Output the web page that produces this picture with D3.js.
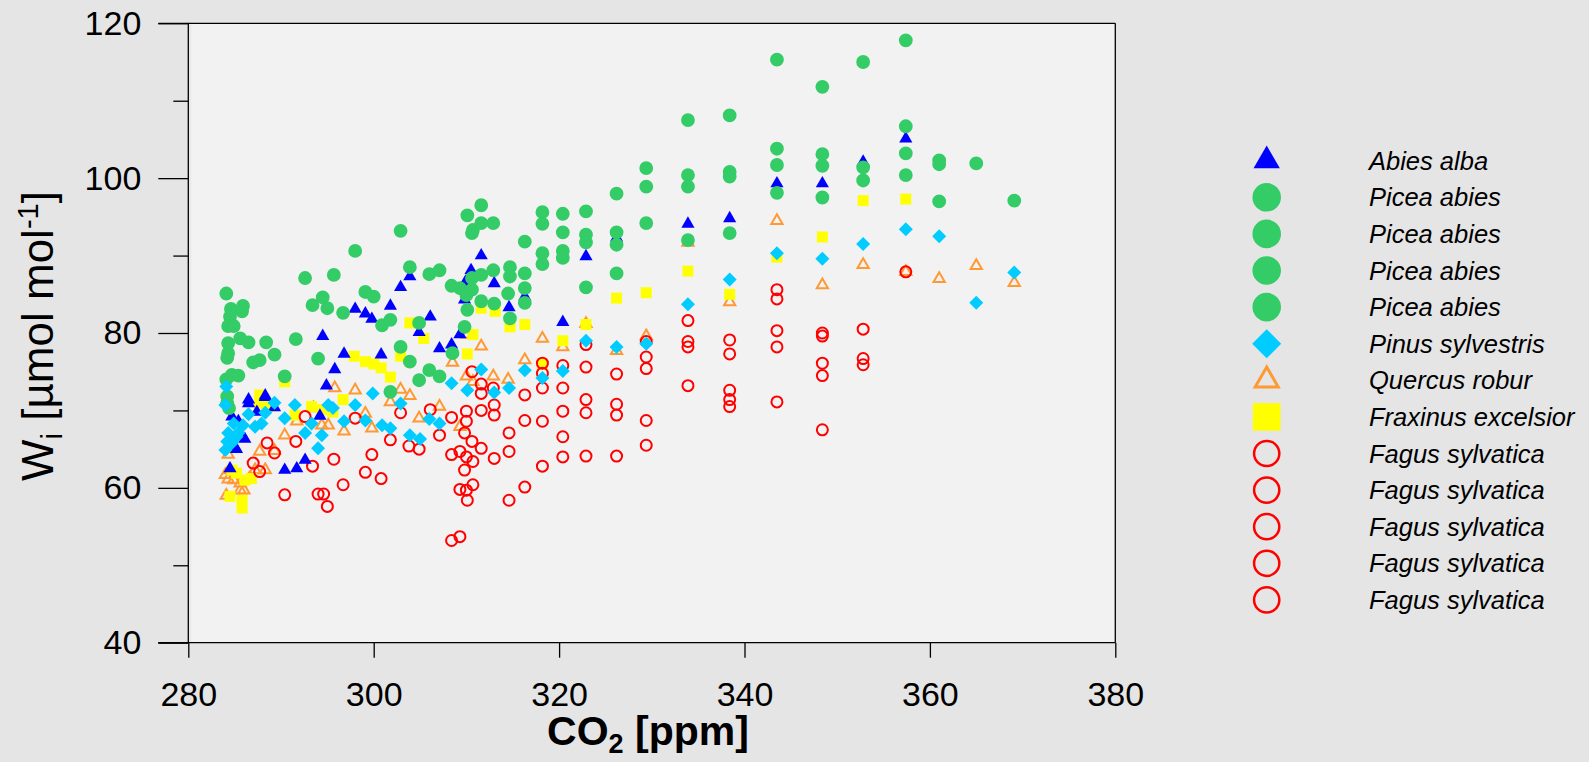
<!DOCTYPE html>
<html><head><meta charset="utf-8">
<script src="https://cdn.jsdelivr.net/npm/d3@7"></script>
<style>
html,body{margin:0;padding:0;background:#e5e5e5;}
svg{display:block;}
text{font-family:"Liberation Sans",Arial,sans-serif;fill:#000;}
</style></head>
<body>
<svg id="chart" width="1589" height="762"></svg>
<script>
// ---- data: [CO2 ppm, Wi µmol mol-1] ----
const abiesAlba = [[284.5,62.5],[285.2,65.0],[286.1,66.3],[284.7,69.2],[285.4,68.6],[286.5,70.9],[288.3,71.7],[287.4,69.8],[289.3,70.4],[286.5,71.4],[288.3,71.9],[290.4,62.3],[291.7,62.5],[292.6,63.6],[294.2,69.3],[294.9,73.2],[295.8,75.3],[296.8,77.3],[294.5,79.6],[298.0,83.1],[299.1,82.5],[299.8,81.8],[300.8,77.2],[301.8,83.5],[302.9,85.9],[303.9,87.3],[304.9,80.1],[306.1,82.1],[307.1,78.0],[308.4,78.5],[309.3,79.8],[309.8,84.3],[309.9,86.6],[310.5,88.1],[311.6,90.0],[313.0,86.4],[314.6,83.3],[316.3,84.7],[320.4,81.4],[322.9,89.9],[326.2,92.3],[333.9,94.1],[338.4,94.8],[343.5,99.3],[348.4,99.3],[352.8,102.1],[357.4,105.1]];
const piceaAbies = [[284.1,85.1],[284.6,83.1],[285.9,83.5],[285.8,82.8],[284.5,82.1],[284.3,80.9],[284.9,80.9],[284.3,78.7],[285.6,79.3],[286.5,78.8],[288.4,78.8],[291.6,79.2],[284.3,77.4],[284.2,76.8],[289.3,77.2],[287.7,76.5],[287.0,76.2],[294.0,76.7],[284.7,74.6],[285.4,74.5],[284.1,74.0],[290.4,74.4],[284.2,71.8],[284.2,70.9],[284.4,70.3],[292.6,87.1],[295.7,87.5],[293.4,83.6],[294.5,84.6],[295.0,83.2],[296.7,82.6],[298.0,90.6],[302.9,93.2],[299.1,85.3],[300.0,84.7],[303.9,88.5],[306.0,87.6],[307.1,88.1],[308.4,86.1],[309.3,85.8],[310.6,85.6],[310.0,84.9],[311.6,87.5],[310.6,87.1],[312.9,88.1],[314.7,88.5],[314.7,87.3],[311.6,84.1],[313.0,83.8],[314.5,85.1],[310.1,83.0],[314.7,81.9],[300.9,81.0],[301.8,81.7],[304.9,81.3],[309.8,80.8],[308.5,77.4],[302.9,78.2],[303.9,76.3],[306.0,75.2],[307.1,74.4],[304.9,73.9],[301.8,72.4],[311.6,96.5],[310.1,95.2],[310.7,93.3],[311.6,94.2],[312.9,94.2],[310.6,92.9],[316.3,91.8],[316.3,87.7],[316.3,85.8],[316.3,83.9],[318.2,95.6],[318.2,94.1],[318.2,90.3],[318.2,88.9],[320.4,95.4],[320.4,93.0],[320.4,90.6],[320.4,89.7],[322.9,95.7],[322.9,92.7],[322.9,91.7],[322.9,85.9],[326.2,98.0],[326.2,93.0],[326.2,91.4],[326.2,87.7],[329.4,101.3],[329.4,98.9],[329.4,94.2],[333.9,107.5],[333.9,100.4],[333.9,98.9],[333.9,92.0],[338.4,108.1],[338.4,100.8],[338.4,100.2],[338.4,92.9],[343.5,115.3],[343.5,103.8],[343.5,101.7],[343.5,98.1],[348.4,111.8],[348.4,103.1],[348.4,101.6],[348.4,97.5],[352.8,115.0],[352.8,101.4],[352.8,99.7],[357.4,117.8],[357.4,106.7],[357.4,103.2],[357.4,100.4],[361.0,102.3],[361.0,101.8],[361.0,97.0],[365.0,101.9],[369.1,97.1]];
const pinusSylvestris = [[284.1,73.1],[284.0,70.7],[289.3,71.0],[286.5,69.5],[288.3,69.7],[291.5,70.7],[290.4,69.0],[287.2,67.9],[287.9,68.3],[284.9,68.3],[284.3,67.1],[285.4,67.1],[285.9,68.1],[284.2,66.0],[284.0,64.9],[284.7,65.8],[285.2,66.6],[292.6,67.1],[293.3,68.3],[294.4,66.8],[294.0,65.1],[295.1,70.7],[295.6,70.3],[296.8,68.6],[298.0,70.7],[299.9,72.2],[302.9,70.9],[299.1,68.7],[300.9,68.1],[301.8,67.7],[303.9,66.8],[305.0,66.3],[306.0,68.9],[307.1,68.3],[308.4,73.5],[310.1,72.6],[311.6,75.3],[313.0,72.3],[314.6,72.9],[316.3,75.2],[318.2,74.2],[320.4,75.1],[322.9,79.0],[326.2,78.2],[329.4,78.6],[333.9,83.7],[338.4,86.9],[343.5,90.3],[348.4,89.6],[352.8,91.5],[357.4,93.4],[361.0,92.5],[365.0,83.9],[369.1,87.8]];
const quercusRobur = [[284.3,64.3],[284.5,62.3],[284.0,61.7],[284.9,61.0],[285.6,60.6],[284.3,61.1],[286.6,61.2],[287.2,62.3],[288.3,62.3],[285.6,59.7],[286.0,59.7],[284.1,59.0],[287.7,64.7],[289.3,64.8],[290.4,66.8],[291.7,68.6],[293.5,70.3],[294.4,68.1],[295.1,68.1],[296.8,67.3],[295.8,72.9],[298.0,72.6],[302.9,72.7],[303.9,71.9],[301.8,71.1],[299.1,69.6],[299.8,67.7],[304.9,69.0],[307.1,70.5],[309.3,67.9],[308.5,76.2],[310.1,79.8],[311.6,78.3],[312.9,74.4],[314.5,74.0],[310.0,74.4],[310.7,73.7],[316.3,76.5],[318.2,79.3],[320.4,78.2],[322.9,81.2],[326.2,77.7],[329.4,79.6],[333.9,91.7],[338.4,84.0],[343.5,94.5],[348.4,86.2],[352.8,88.8],[357.4,87.9],[361.0,87.0],[365.0,88.7],[369.1,86.5]];
const fraxinusExcelsior = [[287.7,72.0],[287.7,70.9],[288.8,70.5],[284.7,62.3],[285.2,61.9],[286.1,61.0],[286.8,61.2],[285.8,58.4],[285.8,57.4],[284.5,58.9],[290.4,73.7],[291.5,69.4],[293.3,70.5],[294.4,70.1],[295.6,69.8],[296.7,71.4],[297.9,77.0],[299.1,76.3],[300.0,76.0],[300.8,75.5],[301.8,74.3],[302.9,77.0],[303.9,81.3],[305.4,79.3],[310.1,77.3],[310.7,79.8],[311.6,83.2],[313.1,82.8],[314.7,80.8],[316.3,81.1],[318.2,76.0],[320.4,79.0],[322.9,81.1],[326.2,84.5],[329.4,85.2],[333.9,88.0],[338.4,85.0],[343.5,89.8],[348.4,92.4],[352.8,97.1],[357.4,97.3]];
const fagusSylvatica = [[292.6,69.2],[288.5,65.8],[289.3,64.5],[291.6,66.0],[287.0,63.2],[287.7,62.1],[293.4,62.8],[295.7,63.7],[296.7,60.4],[290.4,59.1],[294.0,59.2],[294.6,59.2],[295.0,57.6],[298.0,69.0],[302.9,69.7],[301.8,66.2],[306.1,70.1],[308.4,69.1],[310.0,69.9],[310.0,68.6],[311.6,70.0],[313.0,70.7],[313.0,69.4],[307.1,66.8],[303.8,65.4],[304.9,65.0],[299.8,64.3],[299.1,62.0],[300.8,61.2],[309.8,67.1],[310.6,66.0],[311.6,65.1],[313.0,63.8],[314.6,67.1],[314.6,64.7],[308.4,64.3],[309.3,64.7],[310.0,64.0],[310.7,63.4],[309.8,62.3],[309.3,59.8],[310.0,59.7],[310.7,60.4],[310.1,58.4],[314.6,58.4],[308.4,53.2],[309.3,53.7],[310.6,75.0],[311.6,73.4],[312.9,72.9],[311.6,72.2],[316.3,72.0],[316.3,68.7],[316.3,60.1],[318.2,76.1],[318.2,74.8],[318.2,72.9],[318.2,68.6],[318.2,62.8],[320.4,75.8],[320.4,72.9],[320.4,69.9],[320.4,66.6],[320.4,64.0],[322.9,78.5],[322.9,75.6],[322.9,71.4],[322.9,69.7],[322.9,64.1],[326.2,74.7],[326.2,70.8],[326.2,69.4],[326.2,64.1],[329.4,78.9],[329.4,76.9],[329.4,75.4],[329.4,68.7],[329.4,65.5],[333.9,81.6],[333.9,78.9],[333.9,78.2],[333.9,73.2],[338.4,79.1],[338.4,77.3],[338.4,72.6],[338.4,71.4],[338.4,70.5],[343.5,85.6],[343.5,84.4],[343.5,80.3],[343.5,78.2],[343.5,71.1],[348.4,80.0],[348.4,79.6],[348.4,76.1],[348.4,74.5],[348.4,67.5],[352.8,80.5],[352.8,76.7],[352.8,75.9],[357.4,87.9]];

const xTicks = [280,300,320,340,360,380];
const yTicks = [40,60,80,100,120];
const yMinorTicks = [50,70,90,110];
const legendLabels = ["Abies alba","Picea abies","Picea abies","Picea abies","Picea abies","Pinus sylvestris","Quercus robur","Fraxinus excelsior","Fagus sylvatica","Fagus sylvatica","Fagus sylvatica","Fagus sylvatica","Fagus sylvatica"];
const legendKeys = ["abies","picea","picea","picea","picea","pinus","quercus","fraxinus","fagus","fagus","fagus","fagus","fagus"];

// ---- styles ----
const styles = {
  abies:   {type:d3.symbolTriangle, size:75,  legSize:300, fill:"#0000ff", stroke:"none", sw:0, rot:0},
  picea:   {type:d3.symbolCircle,   size:150, legSize:640, fill:"#33cc66", stroke:"none", sw:0, rot:0},
  pinus:   {type:d3.symbolSquare,   size:98,  legSize:420, fill:"#00ccff", stroke:"none", sw:0, rot:45},
  quercus: {type:d3.symbolTriangle, size:55,  legSize:230, fill:"none", stroke:"#ff9933", sw:2, legSw:3, rot:0},
  fraxinus:{type:d3.symbolSquare,   size:121, legSize:760, fill:"#ffff00", stroke:"none", sw:0, rot:0},
  fagus:   {type:d3.symbolCircle,   size:95,  legSize:500, fill:"none", stroke:"#ff0000", sw:2, legSw:2.5, rot:0}
};
const seriesData = {abies:abiesAlba, picea:piceaAbies, pinus:pinusSylvestris, quercus:quercusRobur, fraxinus:fraxinusExcelsior, fagus:fagusSylvatica};
const drawOrder = ["quercus","fraxinus","fagus","abies","picea","pinus"];

const svg = d3.select("#chart");
const L = 188.3, R = 1115.3, T = 23.3, B = 642.7;
const x = d3.scaleLinear().domain([280,380]).range([L,R]);
const y = d3.scaleLinear().domain([40,120]).range([B,T]);

// plot background
svg.append("rect").attr("x",L).attr("y",T).attr("width",R-L).attr("height",B-T).attr("fill","#f2f2f2");
svg.append("rect").attr("x",L).attr("y",T).attr("width",3).attr("height",B-T).attr("fill","#e9e9e9");

// points
const plot = svg.append("g");
drawOrder.forEach(k => {
  const s = styles[k];
  const sym = d3.symbol().type(s.type).size(s.size);
  plot.append("g").selectAll("path").data(seriesData[k]).join("path")
    .attr("d", sym)
    .attr("transform", d => `translate(${x(d[0])},${y(d[1])}) rotate(${s.rot})`)
    .attr("fill", s.fill).attr("stroke", s.stroke).attr("stroke-width", s.sw);
});

// frame lines
svg.append("line").attr("x1",L).attr("x2",R).attr("y1",T).attr("y2",T).attr("stroke","#000").attr("stroke-width",1.3);
svg.append("line").attr("x1",R).attr("x2",R).attr("y1",T).attr("y2",B).attr("stroke","#000").attr("stroke-width",1.3);

// axes
const yAxis = d3.axisLeft(y).tickValues(yTicks).tickSize(30).tickPadding(17).tickFormat(d3.format("d"));
const gy = svg.append("g").attr("transform",`translate(${L},0)`).call(yAxis);
const yMinor = d3.axisLeft(y).tickValues(yMinorTicks).tickSize(15).tickFormat("");
const gym = svg.append("g").attr("transform",`translate(${L},0)`).call(yMinor);
gym.select(".domain").remove();
const xAxis = d3.axisBottom(x).tickValues(xTicks).tickSize(15).tickPadding(24).tickFormat(d3.format("d"));
const gx = svg.append("g").attr("transform",`translate(0,${B})`).call(xAxis);
[gy,gym,gx].forEach(g=>{
  g.selectAll(".domain").attr("stroke","#000").attr("stroke-width",1.3);
  g.selectAll(".tick line").attr("stroke","#000").attr("stroke-width",1.3);
  g.selectAll(".tick text").attr("font-family","'Liberation Sans',Arial,sans-serif").attr("font-size",34).attr("fill","#000");
});
gy.select(".domain").attr("d",`M-30,${T}H0V${B}H-30`);
gx.select(".domain").attr("d",`M${L-30},0H${R}`);

// axis titles
const yt = svg.append("text").attr("transform","translate(53,336) rotate(-90)").attr("text-anchor","middle").attr("font-size",44);
yt.append("tspan").text("W");
yt.append("tspan").attr("font-size",29).attr("dy",9).text("i");
yt.append("tspan").attr("dy",-9).text(" [µmol mol");
yt.append("tspan").attr("font-size",29).attr("dy",-15).text("-1");
yt.append("tspan").attr("dy",15).text("]");

const xt = svg.append("text").attr("x",648).attr("y",745).attr("text-anchor","middle").attr("font-size",41).attr("font-weight","bold");
xt.append("tspan").text("CO");
xt.append("tspan").attr("font-size",27).attr("dy",8).text("2");
xt.append("tspan").attr("dy",-8).text(" [ppm]");

// legend
const leg = svg.append("g");
legendLabels.forEach((lab,i)=>{
  const k = legendKeys[i], s = styles[k];
  const yy = 160.7 + i*36.6;
  leg.append("path").attr("d", d3.symbol().type(s.type).size(s.legSize))
    .attr("transform",`translate(1266.7,${yy}) rotate(${s.rot})`)
    .attr("fill", s.fill).attr("stroke", s.stroke).attr("stroke-width", s.legSw||0);
  leg.append("text").attr("x",1369).attr("y",yy).attr("dy","0.36em").attr("font-size",25.5).attr("font-style","italic").text(lab);
});
</script>
</body></html>
